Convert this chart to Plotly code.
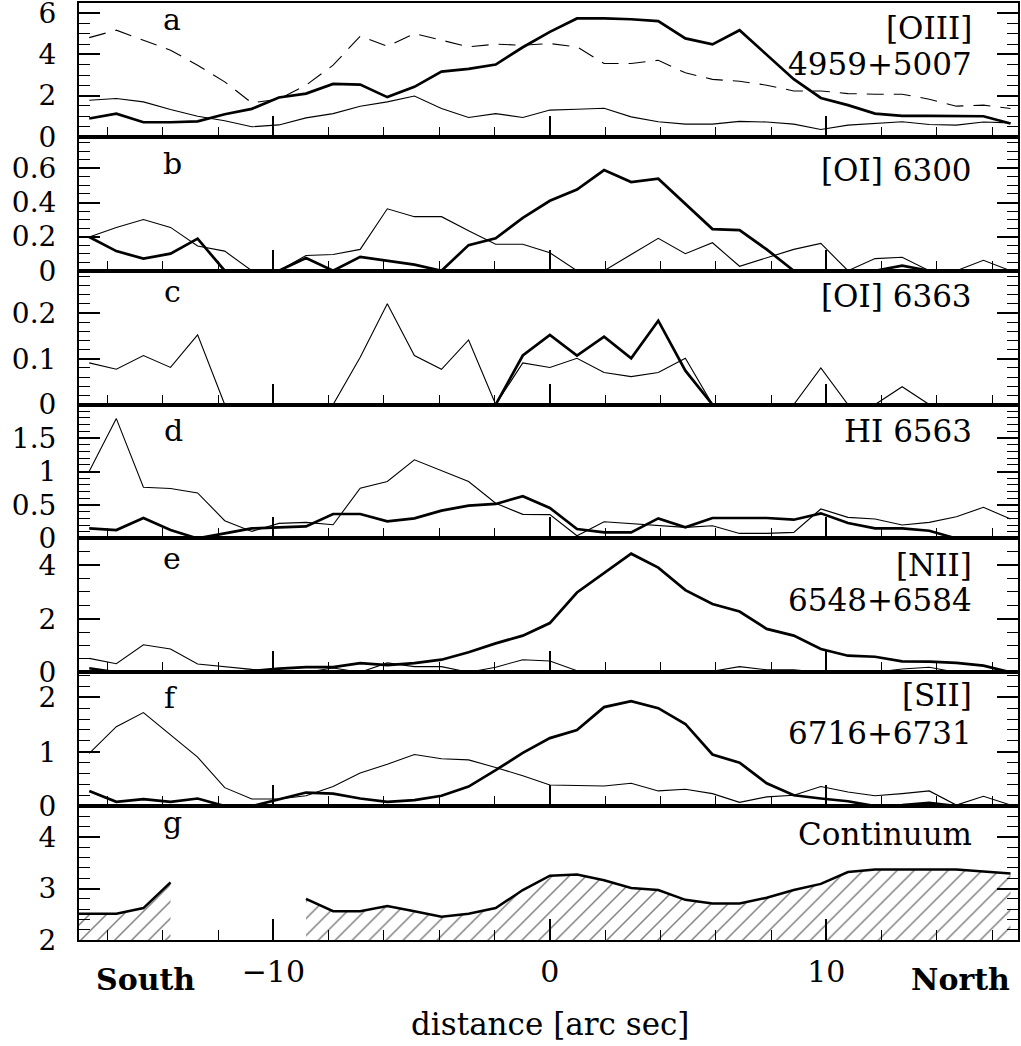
import plotly.graph_objects as go
from plotly.subplots import make_subplots

# ---------------- data ----------------
dist = [-16.66, -15.68, -14.70, -13.72, -12.74, -11.76, -10.78, -9.80, -8.82, -7.84,
        -6.86, -5.88, -4.90, -3.92, -2.94, -1.96, -0.98, 0.00, 0.98, 1.96,
        2.94, 3.92, 4.90, 5.88, 6.86, 7.84, 8.82, 9.80, 10.78, 11.76,
        12.74, 13.72, 14.70, 15.68, 16.66]

oiii_thick = [0.89, 1.13, 0.71, 0.71, 0.75, 1.10, 1.36, 1.91, 2.10, 2.57,
              2.54, 1.93, 2.43, 3.17, 3.30, 3.51, 4.35, 5.10, 5.75, 5.75,
              5.71, 5.62, 4.78, 4.49, 5.18, 4.00, 2.80, 1.89, 1.54, 1.13,
              1.02, 1.02, 1.02, 1.00, 0.65]
oiii_thin = [1.78, 1.86, 1.70, 1.33, 1.00, 0.78, 0.49, 0.58, 0.92, 1.13,
             1.49, 1.70, 1.98, 1.38, 0.94, 1.13, 0.94, 1.30, 1.34, 1.39,
             0.97, 0.73, 0.62, 0.62, 0.75, 0.72, 0.62, 0.36, 0.57, 0.65,
             0.73, 0.60, 0.57, 0.72, 0.68]
oiii_dash = [4.82, 5.18, 4.69, 4.21, 3.48, 2.67, 1.65, 1.83, 2.51, 3.48,
             4.89, 4.40, 5.02, 4.69, 4.37, 4.50, 4.45, 4.53, 4.37, 3.56,
             3.56, 3.72, 3.11, 2.79, 2.70, 2.51, 2.23, 2.23, 2.10, 2.07,
             2.07, 1.83, 1.49, 1.54, 1.38]

oi6300_thick = [0.198, 0.115, 0.071, 0.100, 0.188, 0.0, 0.0, 0.0, 0.075, 0.0,
                0.081, 0.060, 0.036, 0.0, 0.150, 0.190, 0.310, 0.410, 0.476, 0.590,
                0.520, 0.540, 0.390, 0.244, 0.238, 0.125, 0.0, 0.0, 0.0, 0.0,
                0.030, 0.0, 0.0, 0.0, 0.0]
oi6300_thin = [0.198, 0.254, 0.300, 0.254, 0.145, 0.115, 0.0, 0.0, 0.089, 0.095,
               0.125, 0.363, 0.317, 0.317, 0.234, 0.155, 0.155, 0.105, 0.0, 0.0,
               0.095, 0.190, 0.100, 0.164, 0.026, 0.075, 0.125, 0.160, 0.0, 0.071,
               0.079, 0.0, 0.0, 0.061, 0.0]

oi6363_thick = [0.0, 0.0, 0.0, 0.0, 0.0, 0.0, 0.0, 0.0, 0.0, 0.0,
                0.0, 0.0, 0.0, 0.0, 0.0, 0.0, 0.107, 0.152, 0.107, 0.148,
                0.101, 0.183, 0.074, 0.0, 0.0, 0.0, 0.0, 0.0, 0.0, 0.0,
                0.0, 0.0, 0.0, 0.0, 0.0]
oi6363_thin = [0.091, 0.077, 0.107, 0.081, 0.152, 0.0, 0.0, 0.0, 0.0, 0.0,
               0.103, 0.220, 0.107, 0.077, 0.141, 0.0, 0.091, 0.081, 0.101, 0.070,
               0.061, 0.070, 0.101, 0.0, 0.0, 0.0, 0.0, 0.080, 0.0, 0.0,
               0.039, 0.0, 0.0, 0.0, 0.0]

hi_thick = [0.150, 0.125, 0.305, 0.125, 0.0, 0.075, 0.150, 0.165, 0.180, 0.365,
            0.365, 0.255, 0.300, 0.415, 0.490, 0.515, 0.630, 0.455, 0.140, 0.090,
            0.090, 0.300, 0.165, 0.305, 0.305, 0.305, 0.280, 0.375, 0.230, 0.150,
            0.150, 0.115, 0.0, 0.0, 0.0]
hi_thin = [1.005, 1.790, 0.765, 0.745, 0.680, 0.265, 0.105, 0.225, 0.240, 0.205,
           0.750, 0.850, 1.175, 1.015, 0.850, 0.525, 0.360, 0.355, 0.040, 0.250,
           0.225, 0.200, 0.165, 0.190, 0.075, 0.075, 0.090, 0.440, 0.315, 0.290,
           0.200, 0.240, 0.325, 0.465, 0.290]

nii_thick = [0.15, 0.0, 0.0, 0.0, 0.0, 0.0, 0.05, 0.14, 0.19, 0.19,
             0.34, 0.27, 0.34, 0.47, 0.75, 1.08, 1.37, 1.84, 2.98, 3.69,
             4.43, 3.91, 3.07, 2.55, 2.27, 1.62, 1.37, 0.87, 0.62, 0.58,
             0.41, 0.40, 0.35, 0.25, 0.0]
nii_thin = [0.52, 0.32, 1.03, 0.87, 0.31, 0.21, 0.11, 0.04, 0.0, 0.16,
            0.0, 0.35, 0.21, 0.21, 0.0, 0.19, 0.47, 0.42, 0.06, 0.0,
            0.0, 0.0, 0.0, 0.04, 0.21, 0.09, 0.09, 0.0, 0.04, 0.0,
            0.12, 0.19, 0.0, 0.0, 0.0]

sii_thick = [0.28, 0.08, 0.13, 0.08, 0.14, 0.0, 0.0, 0.12, 0.25, 0.23,
             0.14, 0.08, 0.11, 0.19, 0.36, 0.66, 0.98, 1.25, 1.40, 1.82,
             1.93, 1.80, 1.51, 0.95, 0.80, 0.42, 0.20, 0.14, 0.09, 0.0,
             0.02, 0.06, 0.0, 0.0, 0.0]
sii_thin = [0.97, 1.46, 1.72, 1.31, 0.90, 0.34, 0.13, 0.13, 0.19, 0.36,
            0.61, 0.77, 0.95, 0.87, 0.85, 0.71, 0.56, 0.39, 0.38, 0.37,
            0.42, 0.28, 0.31, 0.23, 0.07, 0.17, 0.20, 0.36, 0.26, 0.19,
            0.23, 0.28, 0.02, 0.18, 0.02]

dist_cont = [-17.64] + dist
continuum = [2.51, 2.51, 2.51, 2.62, 3.12, None, None, None, None, 2.80,
             2.56, 2.56, 2.66, 2.56, 2.45, 2.51, 2.62, 2.97, 3.25, 3.27,
             3.16, 3.01, 2.97, 2.78, 2.71, 2.71, 2.82, 2.97, 3.09, 3.32,
             3.37, 3.37, 3.37, 3.37, 3.33, 3.29]

panel_letters = ["a", "b", "c", "d", "e", "f", "g"]
y_ranges = [[0, 6.5], [0, 0.785], [0, 0.292], [0, 2.0], [0, 5.0], [0, 2.46], [2, 4.6]]
y_tickvals = [[0, 2, 4, 6], [0, 0.2, 0.4, 0.6], [0, 0.1, 0.2], [0, 0.5, 1, 1.5],
              [0, 2, 4], [0, 1, 2], [2, 3, 4]]
y_ticktext = [["0", "2", "4", "6"], ["0", "0.2", "0.4", "0.6"], ["0", "0.1", "0.2"],
              ["0", "0.5", "1", "1.5"], ["0", "2", "4"], ["0", "1", "2"], ["2", "3", "4"]]
y_minor = [0.5, 0.05, 0.02, 0.1, 0.5, 0.2, 0.2]
x_ticks = [-10, 0, 10]

# ---------------- figure ----------------
FONT = "DejaVu Serif"
W, H = 1021, 1046
ML, MR, MT, MB = 79, 3, 3, 106
PW, PH = W - ML - MR, H - MT - MB


def px(x):
    return (x - ML) / PW


def py(y):
    return (H - MB - y) / PH


fig = make_subplots(rows=7, cols=1, shared_xaxes=True, vertical_spacing=0)

thin = dict(color="black", width=1.1)
thick = dict(color="black", width=2.7)

panels = [
    (oiii_thin, oiii_thick),
    (oi6300_thin, oi6300_thick),
    (oi6363_thin, oi6363_thick),
    (hi_thin, hi_thick),
    (nii_thin, nii_thick),
    (sii_thin, sii_thick),
]
for i, (tn, tk) in enumerate(panels):
    r = i + 1
    fig.add_trace(go.Scatter(x=dist, y=tn, mode="lines", line=thin), row=r, col=1)
    if i == 0:
        fig.add_trace(go.Scatter(x=dist, y=oiii_dash, mode="lines",
                                 line=dict(color="black", width=1.1, dash="17px,10px")),
                      row=1, col=1)
    fig.add_trace(go.Scatter(x=dist, y=tk, mode="lines", line=thick), row=r, col=1)

# continuum: split at gaps, hatched fill
segs, cur = [], ([], [])
for xv, yv in zip(dist_cont, continuum):
    if yv is None:
        if cur[0]:
            segs.append(cur)
        cur = ([], [])
    else:
        cur[0].append(xv)
        cur[1].append(yv)
if cur[0]:
    segs.append(cur)
for sx, sy in segs:
    fig.add_trace(go.Scatter(x=sx, y=sy, mode="lines", line=dict(color="black", width=2.5),
                             fill="tozeroy", fillcolor="white",
                             fillpattern=dict(shape="/", fgcolor="black", bgcolor="white",
                                              size=12, solidity=0.12)),
                  row=7, col=1)

for i in range(7):
    r = i + 1
    fig.update_yaxes(range=y_ranges[i], tickvals=y_tickvals[i], ticktext=y_ticktext[i],
                     ticks="inside", ticklen=21, tickwidth=1.5, tickcolor="black",
                     minor=dict(dtick=y_minor[i], tick0=0, ticks="inside", ticklen=11,
                                tickwidth=1.3, tickcolor="black"),
                     showline=True, linewidth=2, linecolor="black", mirror="ticks",
                     showgrid=False, zeroline=False, automargin=False,
                     ticklabeloverflow="allow",
                     tickfont=dict(family=FONT, size=28, color="black"),
                     ticklabelstandoff=15,
                     row=r, col=1)
    fig.update_xaxes(range=[-17.03, 16.93], tickvals=x_ticks,
                     ticks="inside", ticklen=21, tickwidth=1.5, tickcolor="black",
                     minor=dict(dtick=2, tick0=0, ticks="inside", ticklen=10,
                                tickwidth=1.3, tickcolor="black"),
                     showline=True, linewidth=2, linecolor="black", mirror=True,
                     showgrid=False, zeroline=False, automargin=False,
                     ticklabeloverflow="allow",
                     tickfont=dict(family=FONT, size=30, color="black"),
                     ticklabelstandoff=4,
                     row=r, col=1)

ann = []


def add_text(t, x, y, xanchor="center", size=30, bold=False):
    ann.append(dict(text=("<b>%s</b>" % t) if bold else t, x=px(x), y=py(y),
                    xref="paper", yref="paper", xanchor=xanchor, yanchor="middle",
                    showarrow=False, font=dict(family=FONT, size=size, color="black")))


letter_pos = [(172, 20), (172, 163), (172, 291), (173, 430), (172, 558), (170, 697), (172, 822)]
for letter, (lx, ly) in zip(panel_letters, letter_pos):
    add_text(letter, lx, ly)

right_labels = [("[OIII]", 27.5), ("4959+5007", 64.5), ("[OI] 6300", 169.5),
                ("[OI] 6363", 296), ("HI 6563", 431), ("[NII]", 565),
                ("6548+6584", 599.5), ("[SII]", 695), ("6716+6731", 733),
                ("Continuum", 834)]
for t, ly in right_labels:
    add_text(t, 974, ly, xanchor="right", size=31)

add_text("South", 145, 979, bold=True, size=30)
add_text("North", 960, 979, bold=True, size=30)
add_text("distance [arc sec]", 550, 1024, size=31)

fig.update_layout(width=W, height=H, margin=dict(l=ML, r=MR, t=MT, b=MB, autoexpand=False),
                  plot_bgcolor="white", paper_bgcolor="white", showlegend=False,
                  annotations=ann)

fig.write_html("out.html")
